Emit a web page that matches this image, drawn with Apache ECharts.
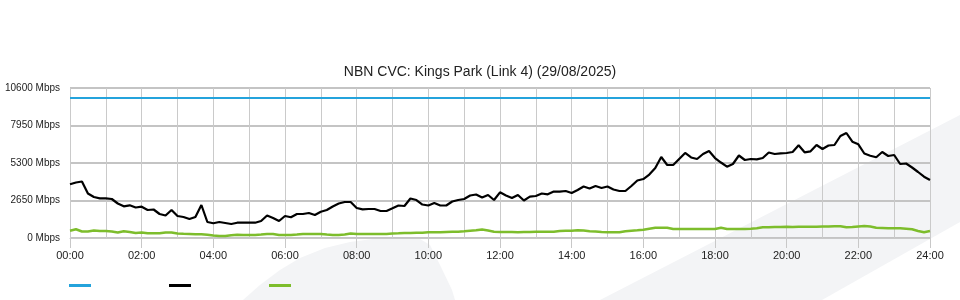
<!DOCTYPE html>
<html>
<head>
<meta charset="utf-8">
<script src="https://cdn.jsdelivr.net/npm/echarts@6/dist/echarts.min.js"></script>
<style>html,body{margin:0;padding:0;background:#fff}#c{width:960px;height:300px}</style>
</head>
<body>
<div id="c"></div>
<script>
// Sample interval (minutes) and chart text
const stepMinutes = 10;
const title = 'NBN CVC: Kings Park (Link 4) (29/08/2025)';
const seriesNames = ['Capacity', 'Traffic', 'Other'];
const xTickLabels = ['00:00','02:00','04:00','06:00','08:00','10:00','12:00','14:00','16:00','18:00','20:00','22:00','24:00'];
const yTicks = [0, 2650, 5300, 7950, 10600];

// Capacity (Mbps) — flat line
const capacity = 9900;

// Traffic (Mbps), one value every 10 minutes from 00:00 to 24:00
const traffic = [
3795,3922,3993,3145,2897,2805,2805,2756,2438,2240,
2311,2155,2212,1979,2014,1696,1590,1979,1555,1484,
1343,1484,2332,1131,1039,1131,1060,989,1081,1081,
1081,1081,1201,1590,1413,1201,1555,1463,1696,1696,
1767,1625,1859,1979,2226,2438,2544,2544,2120,2028,
2049,2049,1908,1908,2099,2297,2261,2791,2685,2367,
2297,2473,2297,2297,2579,2685,2756,3003,3074,2862,
3039,2685,3229,3003,2827,3039,2650,2919,2968,3145,
3088,3286,3272,3321,3180,3392,3639,3498,3675,3533,
3639,3427,3321,3321,3675,4063,4169,4487,4947,5724,
5159,5159,5583,6007,5689,5583,5936,6148,5653,5335,
5039,5229,5830,5512,5583,5561,5653,6042,5936,5985,
6007,6077,6551,6056,6127,6572,6289,6537,6572,7208,
7420,6805,6621,5971,5816,5703,6077,5795,5865,5229,
5265,4982,4664,4332,4099
];

// Other (Mbps), one value every 10 minutes from 00:00 to 24:00
const other = [
516,615,459,459,530,495,495,459,389,473,
424,353,389,332,332,332,389,389,318,297,
283,269,261,233,177,141,141,198,233,212,
212,212,247,283,283,212,212,212,247,283,
283,283,283,247,212,212,247,318,283,283,
283,283,283,283,318,332,353,353,375,375,
403,403,403,424,445,445,473,516,544,601,
530,445,424,424,424,403,424,424,445,445,
445,445,495,516,516,544,530,481,459,424,
403,403,403,473,516,544,587,657,728,728,
728,636,636,636,636,636,636,636,636,728,
636,636,636,636,657,685,756,756,777,777,
799,777,799,799,799,799,813,813,827,827,
756,777,813,848,813,728,707,685,685,685,
650,615,495,403,495
];

const toPairs = arr => arr.map((v, i) => [i * stepMinutes, v]);
const capacityPairs = traffic.map((_, i) => [i * stepMinutes, capacity]);

const chart = echarts.init(document.getElementById('c'), null, {renderer: 'canvas'});
const font = 'Liberation Sans, Arial, sans-serif';
chart.setOption({
  animation: false,
  backgroundColor: '#ffffff',
  graphic: [
    {type: 'polygon', z: -10, silent: true,
     shape: {points: [[600,300],[960,115],[960,222],[822,300]]},
     style: {fill: '#f3f4f6'}},
    {type: 'polygon', z: -10, silent: true,
     shape: {points: [[243,300],[260,285],[280,270],[300,258],[325,248],[350,242],[380,238],[405,237],[420,239],[430,245],[440,265],[452,290],[455,300]]},
     style: {fill: '#f3f4f6'}}
  ],
  title: {
    text: title, left: 'center', top: 60,
    textStyle: {fontFamily: font, fontSize: 14, fontWeight: 'normal', color: '#222'}
  },
  legend: {
    left: 64, top: 279, itemWidth: 22, itemHeight: 3, itemGap: 78,
    icon: 'rect',
    formatter: () => '',
    data: seriesNames,
    textStyle: {fontSize: 1},
    selectedMode: false
  },
  grid: {left: 70, right: 30, top: 88, bottom: 62, containLabel: false, outerBoundsMode: 'none'},
  xAxis: {
    type: 'value', min: 0, max: 1440, interval: 120,
    axisLine: {show: true, lineStyle: {color: '#c8c8c8', width: 1}},
    axisTick: {show: true, length: 10, lineStyle: {color: '#c8c8c8'}},
    axisLabel: {
      fontFamily: font, fontSize: 11, color: '#222', margin: 12,
      formatter: v => xTickLabels[Math.round(v / 120)]
    },
    splitLine: {show: true, lineStyle: {color: '#cacaca', width: 1}},
    minorTick: {show: false, splitNumber: 2},
    minorSplitLine: {show: true, lineStyle: {color: '#cacaca', width: 1}}
  },
  yAxis: {
    type: 'value', min: 0, max: 10600, interval: 2650,
    axisLine: {show: false},
    axisTick: {show: false},
    axisLabel: {
      fontFamily: font, fontSize: 10, color: '#222', margin: 10,
      formatter: v => yTicks.includes(v) ? v + ' Mbps' : ''
    },
    splitLine: {show: true, lineStyle: {color: '#c4c4c4', width: 2}}
  },
  series: [
    {name: seriesNames[0], type: 'line', data: capacityPairs, showSymbol: false,
     lineStyle: {color: '#24a3dc', width: 2}, itemStyle: {color: '#24a3dc'}, z: 3},
    {name: seriesNames[1], type: 'line', data: toPairs(traffic), showSymbol: false,
     lineStyle: {color: '#000000', width: 2.2}, itemStyle: {color: '#000000'}, z: 4},
    {name: seriesNames[2], type: 'line', data: toPairs(other), showSymbol: false,
     lineStyle: {color: '#7dbd2c', width: 2.5}, itemStyle: {color: '#7dbd2c'}, z: 3}
  ]
});
</script>
</body>
</html>
